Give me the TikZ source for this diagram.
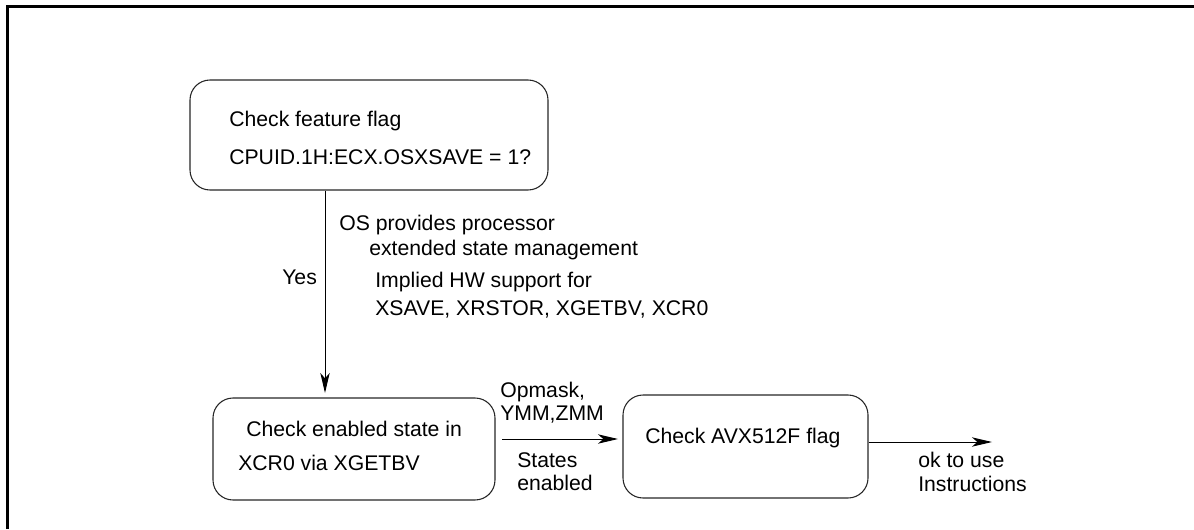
\documentclass[tikz,border=0pt]{standalone}
\usepackage{fontspec}
\setmainfont{Liberation Sans}
\usetikzlibrary{arrows.meta}
\begin{document}
\begin{tikzpicture}[x=0.75pt,y=-0.75pt,
  box/.style={draw=black!85,line width=0.8pt,rounded corners=15pt,inner sep=0pt},
  lbl/.style={inner sep=0pt,anchor=base west,font=\fontsize{15.9}{19}\selectfont},
  conn/.style={line width=0.75pt,-{Stealth[length=15pt,width=7pt,inset=4pt]}}]
\useasboundingbox (0,0) rectangle (1194,529);
\draw[line width=1.6pt] (7.5,529) -- (7.5,6.5) -- (1194,6.5);
% boxes
\node[box,minimum width=358*0.75pt,minimum height=110*0.75pt] (b1) at (369,135) {};
\node[box,minimum width=282*0.75pt,minimum height=102*0.75pt] (b2) at (354,449) {};
\node[box,minimum width=245*0.75pt,minimum height=103*0.75pt] (b3) at (745.5,446.5) {};
% box texts
\node[lbl] (t1a) at (229,126) {Check feature flag};
\node[lbl] (t1b) at (229,164) {CPUID.1H:ECX.OSXSAVE = 1?};
\node[lbl] (t2a) at (246,436) {Check enabled state in};
\node[lbl] (t2b) at (238,470) {XCR0 via XGETBV};
\node[lbl] (t3a) at (645,443) {Check AVX512F flag};
% connectors
\draw[conn] (b1.south -| 325,0) -- (325,393);
\coordinate (a2s) at (502,439);
\coordinate (a2e) at (618,439);
\draw[conn] (a2s) -- (a2e);
\coordinate (a3s) at (870,442);
\coordinate (a3e) at (992,442);
\draw[conn] (b3.east |- a3s) -- (a3e);
% labels
\node[lbl] (l1) at (339,230) {OS provides processor};
\node[lbl] (l2) at (369,255) {extended state management};
\node[lbl] (l3) at (375,287) {Implied HW support for};
\node[lbl] (l4) at (375,315) {XSAVE, XRSTOR, XGETBV, XCR0};
\node[lbl] (yes) at (282,284) {Yes};
\node[lbl] (o1) at (500,397) {Opmask,};
\node[lbl] (o2) at (500,420) {YMM,ZMM};
\node[lbl] (s1) at (517,467) {States};
\node[lbl] (s2) at (517,490) {enabled};
\node[lbl] (k1) at (918,467) {ok to use};
\node[lbl] (k2) at (918,491) {Instructions};
\end{tikzpicture}
\end{document}
